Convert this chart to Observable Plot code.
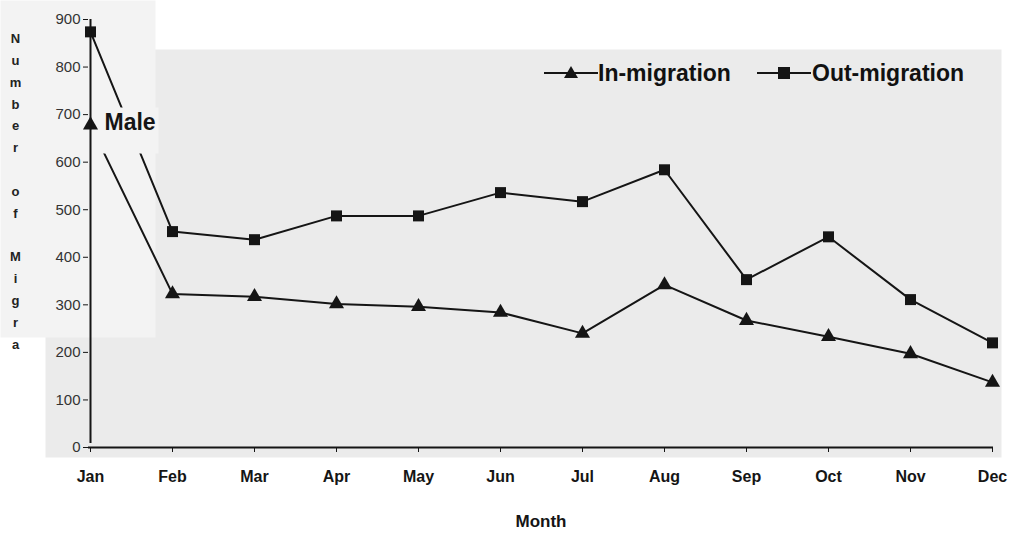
<!DOCTYPE html>
<html>
<head>
<meta charset="utf-8">
<script src="https://cdn.jsdelivr.net/npm/d3@7"></script>
<script src="https://cdn.jsdelivr.net/npm/@observablehq/plot@0.6"></script>
<style>
  html, body { margin: 0; padding: 0; background: #fff; }
  #wrap { position: relative; width: 1025px; height: 535px; font-family: "Liberation Sans", Arial, sans-serif; }
  .leg { position: absolute; font-weight: bold; font-size: 23px; color: #111; line-height: 1; white-space: nowrap; }
  .legsym { position: absolute; }
</style>
</head>
<body>
<div id="wrap"></div>
<script>
const months = ["Jan","Feb","Mar","Apr","May","Jun","Jul","Aug","Sep","Oct","Nov","Dec"];
const inMigration  = [678, 323, 317, 302, 296, 284, 240, 342, 267, 233, 197, 137];
const outMigration = [874, 454, 437, 487, 487, 536, 517, 584, 353, 443, 311, 220];
const yTicks = [0, 100, 200, 300, 400, 500, 600, 700, 800, 900];
const seriesNames = ["In-migration", "Out-migration"];
const yTitle = "Number of Migra";
const annotation = "Male";
const xTitle = "Month";

const inRows = months.map((m, i) => ({month: m, value: inMigration[i], series: seriesNames[0]}));
const outRows = months.map((m, i) => ({month: m, value: outMigration[i], series: seriesNames[1]}));

const bg = "#ebebeb";
const light = "#f3f3f3";
const ink = "#151515";
const stacked = yTitle.split("").map(c => c === " " ? "\u00a0" : c).join("\n");

const chart = Plot.plot({
  width: 1025,
  height: 535,
  marginLeft: 88,
  marginRight: 32,
  marginTop: 19,
  marginBottom: 88,
  x: {type: "point", domain: months, padding: 0, label: null},
  y: {domain: [0, 900], label: null},
  style: {fontFamily: "'Liberation Sans', Arial, sans-serif", background: "#fff", color: ink},
  marks: [
    Plot.frame({fill: bg, stroke: null, insetLeft: -43, insetTop: 30, insetBottom: -10, insetRight: -8}),
    Plot.frame({fill: light, stroke: null, insetLeft: -88, insetTop: -19, insetRight: 838, insetBottom: 110}),
    Plot.lineY(inRows, {x: "month", y: "value", stroke: ink, strokeWidth: 2}),
    Plot.lineY(outRows, {x: "month", y: "value", stroke: ink, strokeWidth: 2}),
    // gap box behind the "Male" annotation
    Plot.frame({fill: light, stroke: null, insetLeft: 3, insetTop: 88, insetRight: 835, insetBottom: 294}),
    Plot.dot(inRows, {x: "month", y: "value", symbol: "triangle", fill: ink, stroke: null, r: 5.6}),
    Plot.dot(outRows, {x: "month", y: "value", symbol: "square", fill: ink, stroke: null, r: 6.2}),
    Plot.text([annotation], {frameAnchor: "top-left", dx: 16, dy: 103, textAnchor: "start", lineAnchor: "middle", fontSize: 23, fontWeight: "bold", fill: ink}),
    Plot.text([stacked], {frameAnchor: "top-left", dx: -73, dy: 8, lineAnchor: "top", textAnchor: "middle", fontSize: 13, fontWeight: "bold", lineHeight: 1.68, fill: "#222"}),
    Plot.text([xTitle], {frameAnchor: "bottom", dy: 79, fontSize: 17, fontWeight: "bold", fill: ink}),
    Plot.ruleY([0], {stroke: ink, strokeWidth: 2}),
    Plot.ruleX([months[0]], {y1: 0, y2: 900, stroke: ink, strokeWidth: 2, insetTop: -4}),
    Plot.axisY({ticks: yTicks, tickSize: 5, tickPadding: 3, fontSize: 15, label: null, color: "#333", stroke: ink}),
    Plot.axisX({tickSize: 5, tickPadding: 18, fontSize: 16, fontWeight: "bold", label: null, color: ink})
  ]
});

const wrap = document.getElementById("wrap");
wrap.appendChild(chart);

// in-plot legend
function addLegend(lineLeft, textLeft, sym, name) {
  const s = document.createElementNS("http://www.w3.org/2000/svg", "svg");
  s.setAttribute("width", 54); s.setAttribute("height", 20);
  s.setAttribute("class", "legsym");
  s.style.left = lineLeft + "px"; s.style.top = "63px";
  let shape = sym === "triangle"
    ? `<path d="M27,3 L34,15 L20,15 Z" fill="${ink}"/>`
    : `<rect x="21" y="4" width="12" height="12" fill="${ink}"/>`;
  s.innerHTML = `<line x1="0" y1="10" x2="54" y2="10" stroke="${ink}" stroke-width="2"/>` + shape;
  wrap.appendChild(s);
  const t = document.createElement("div");
  t.className = "leg"; t.textContent = name;
  t.style.left = textLeft + "px"; t.style.top = "62px";
  wrap.appendChild(t);
}
addLegend(544, 598, "triangle", seriesNames[0]);
addLegend(757, 812, "square", seriesNames[1]);
</script>
</body>
</html>
